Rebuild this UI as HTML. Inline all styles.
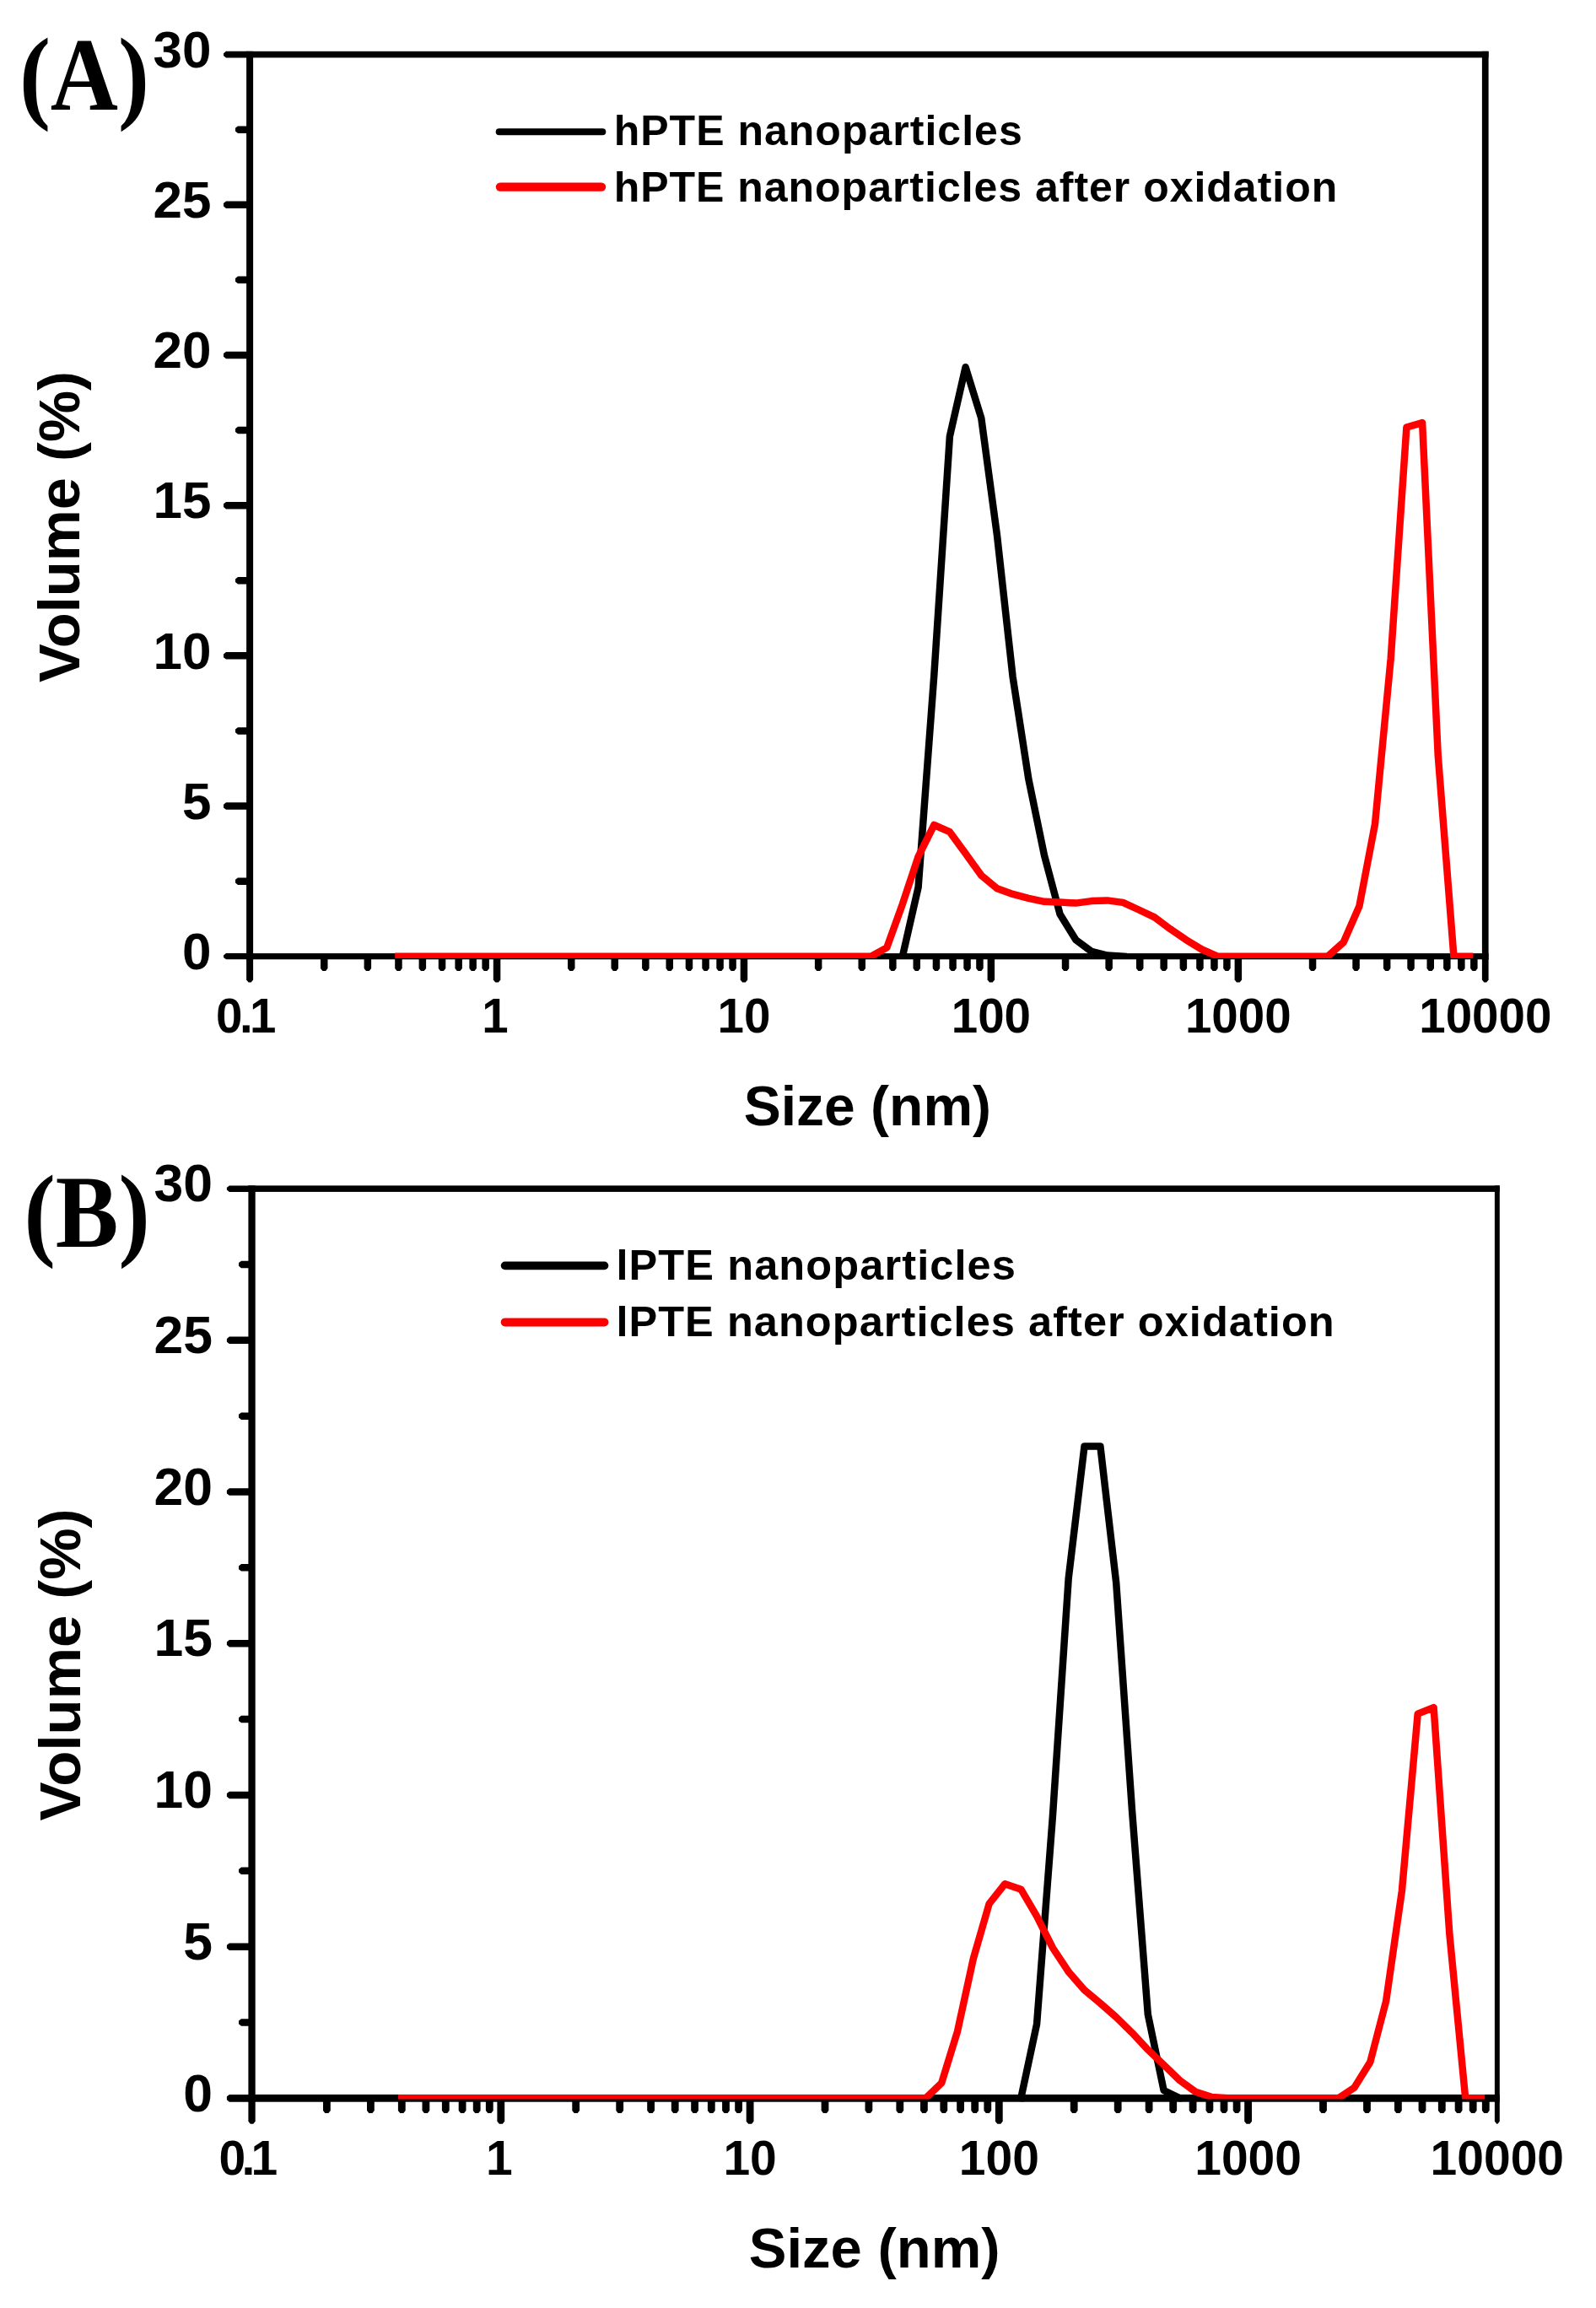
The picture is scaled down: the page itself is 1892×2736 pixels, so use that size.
<!DOCTYPE html>
<html lang="en">
<head>
<meta charset="utf-8">
<title>Particle size distributions</title>
<style>
html, body { margin: 0; padding: 0; background: #fff; }
body { width: 1892px; height: 2736px; overflow: hidden; }
svg { display: block; }
text { white-space: pre; }
</style>
</head>
<body>
<svg width="1892" height="2736" viewBox="0 0 1892 2736">
<rect x="0" y="0" width="1892" height="2736" fill="#fff"/>
<g id="chartA">
<g fill="#000">
<rect x="292.1" y="60.8" width="8.0" height="1076.5"/>
<rect x="1756.9" y="60.8" width="7.7" height="1076.5"/>
<rect x="292.1" y="60.8" width="1472.5" height="7.6"/>
<rect x="292.1" y="1130.1" width="1472.5" height="7.2"/>
<polygon points="293.1,1130.1 268.0,1130.1 265.0,1132.5 265.0,1134.9 268.0,1137.3 293.1,1137.3"/>
<polygon points="293.1,1040.4 282.0,1040.4 279.0,1042.8 279.0,1046.5 282.0,1048.9 293.1,1048.9"/>
<polygon points="293.1,951.3 268.0,951.3 265.0,953.7 265.0,957.4 268.0,959.8 293.1,959.8"/>
<polygon points="293.1,862.2 282.0,862.2 279.0,864.6 279.0,868.3 282.0,870.7 293.1,870.7"/>
<polygon points="293.1,773.1 268.0,773.1 265.0,775.5 265.0,779.2 268.0,781.6 293.1,781.6"/>
<polygon points="293.1,684.0 282.0,684.0 279.0,686.4 279.0,690.1 282.0,692.5 293.1,692.5"/>
<polygon points="293.1,594.9 268.0,594.9 265.0,597.3 265.0,601.0 268.0,603.4 293.1,603.4"/>
<polygon points="293.1,505.8 282.0,505.8 279.0,508.2 279.0,511.9 282.0,514.3 293.1,514.3"/>
<polygon points="293.1,416.7 268.0,416.7 265.0,419.1 265.0,422.8 268.0,425.2 293.1,425.2"/>
<polygon points="293.1,327.6 282.0,327.6 279.0,330.0 279.0,333.7 282.0,336.1 293.1,336.1"/>
<polygon points="293.1,238.5 268.0,238.5 265.0,240.9 265.0,244.6 268.0,247.0 293.1,247.0"/>
<polygon points="293.1,149.4 282.0,149.4 279.0,151.8 279.0,155.5 282.0,157.9 293.1,157.9"/>
<polygon points="293.1,60.8 268.0,60.8 265.0,63.2 265.0,66.0 268.0,68.4 293.1,68.4"/>
<polygon points="292.1,1136.3 292.1,1161.6 294.5,1164.6 297.7,1164.6 300.1,1161.6 300.1,1136.3"/>
<polygon points="380.0,1136.3 380.0,1148.0 382.4,1151.0 386.1,1151.0 388.5,1148.0 388.5,1136.3"/>
<polygon points="431.6,1136.3 431.6,1148.0 434.0,1151.0 437.7,1151.0 440.1,1148.0 440.1,1136.3"/>
<polygon points="468.2,1136.3 468.2,1148.0 470.6,1151.0 474.3,1151.0 476.7,1148.0 476.7,1136.3"/>
<polygon points="496.6,1136.3 496.6,1148.0 499.0,1151.0 502.7,1151.0 505.1,1148.0 505.1,1136.3"/>
<polygon points="519.8,1136.3 519.8,1148.0 522.2,1151.0 525.9,1151.0 528.3,1148.0 528.3,1136.3"/>
<polygon points="539.4,1136.3 539.4,1148.0 541.8,1151.0 545.5,1151.0 547.9,1148.0 547.9,1136.3"/>
<polygon points="556.4,1136.3 556.4,1148.0 558.8,1151.0 562.5,1151.0 564.9,1148.0 564.9,1136.3"/>
<polygon points="571.4,1136.3 571.4,1148.0 573.8,1151.0 577.5,1151.0 579.9,1148.0 579.9,1136.3"/>
<polygon points="584.8,1136.3 584.8,1161.6 587.2,1164.6 590.9,1164.6 593.3,1161.6 593.3,1136.3"/>
<polygon points="673.0,1136.3 673.0,1148.0 675.4,1151.0 679.1,1151.0 681.5,1148.0 681.5,1136.3"/>
<polygon points="724.5,1136.3 724.5,1148.0 726.9,1151.0 730.6,1151.0 733.0,1148.0 733.0,1136.3"/>
<polygon points="761.1,1136.3 761.1,1148.0 763.5,1151.0 767.2,1151.0 769.6,1148.0 769.6,1136.3"/>
<polygon points="789.5,1136.3 789.5,1148.0 791.9,1151.0 795.6,1151.0 798.0,1148.0 798.0,1136.3"/>
<polygon points="812.7,1136.3 812.7,1148.0 815.1,1151.0 818.8,1151.0 821.2,1148.0 821.2,1136.3"/>
<polygon points="832.3,1136.3 832.3,1148.0 834.7,1151.0 838.4,1151.0 840.8,1148.0 840.8,1136.3"/>
<polygon points="849.3,1136.3 849.3,1148.0 851.7,1151.0 855.4,1151.0 857.8,1148.0 857.8,1136.3"/>
<polygon points="864.3,1136.3 864.3,1148.0 866.7,1151.0 870.4,1151.0 872.8,1148.0 872.8,1136.3"/>
<polygon points="877.7,1136.3 877.7,1161.6 880.1,1164.6 883.8,1164.6 886.2,1161.6 886.2,1136.3"/>
<polygon points="965.9,1136.3 965.9,1148.0 968.3,1151.0 972.0,1151.0 974.4,1148.0 974.4,1136.3"/>
<polygon points="1017.5,1136.3 1017.5,1148.0 1019.9,1151.0 1023.6,1151.0 1026.0,1148.0 1026.0,1136.3"/>
<polygon points="1054.1,1136.3 1054.1,1148.0 1056.5,1151.0 1060.2,1151.0 1062.6,1148.0 1062.6,1136.3"/>
<polygon points="1082.5,1136.3 1082.5,1148.0 1084.9,1151.0 1088.6,1151.0 1091.0,1148.0 1091.0,1136.3"/>
<polygon points="1105.7,1136.3 1105.7,1148.0 1108.1,1151.0 1111.8,1151.0 1114.2,1148.0 1114.2,1136.3"/>
<polygon points="1125.3,1136.3 1125.3,1148.0 1127.7,1151.0 1131.4,1151.0 1133.8,1148.0 1133.8,1136.3"/>
<polygon points="1142.3,1136.3 1142.3,1148.0 1144.7,1151.0 1148.4,1151.0 1150.8,1148.0 1150.8,1136.3"/>
<polygon points="1157.2,1136.3 1157.2,1148.0 1159.6,1151.0 1163.3,1151.0 1165.7,1148.0 1165.7,1136.3"/>
<polygon points="1170.6,1136.3 1170.6,1161.6 1173.0,1164.6 1176.7,1164.6 1179.1,1161.6 1179.1,1136.3"/>
<polygon points="1258.8,1136.3 1258.8,1148.0 1261.2,1151.0 1264.9,1151.0 1267.3,1148.0 1267.3,1136.3"/>
<polygon points="1310.4,1136.3 1310.4,1148.0 1312.8,1151.0 1316.5,1151.0 1318.9,1148.0 1318.9,1136.3"/>
<polygon points="1347.0,1136.3 1347.0,1148.0 1349.4,1151.0 1353.1,1151.0 1355.5,1148.0 1355.5,1136.3"/>
<polygon points="1375.4,1136.3 1375.4,1148.0 1377.8,1151.0 1381.5,1151.0 1383.9,1148.0 1383.9,1136.3"/>
<polygon points="1398.6,1136.3 1398.6,1148.0 1401.0,1151.0 1404.7,1151.0 1407.1,1148.0 1407.1,1136.3"/>
<polygon points="1418.2,1136.3 1418.2,1148.0 1420.6,1151.0 1424.3,1151.0 1426.7,1148.0 1426.7,1136.3"/>
<polygon points="1435.2,1136.3 1435.2,1148.0 1437.6,1151.0 1441.3,1151.0 1443.7,1148.0 1443.7,1136.3"/>
<polygon points="1450.2,1136.3 1450.2,1148.0 1452.6,1151.0 1456.3,1151.0 1458.7,1148.0 1458.7,1136.3"/>
<polygon points="1463.6,1136.3 1463.6,1161.6 1466.0,1164.6 1469.7,1164.6 1472.1,1161.6 1472.1,1136.3"/>
<polygon points="1551.8,1136.3 1551.8,1148.0 1554.2,1151.0 1557.9,1151.0 1560.3,1148.0 1560.3,1136.3"/>
<polygon points="1603.3,1136.3 1603.3,1148.0 1605.7,1151.0 1609.4,1151.0 1611.8,1148.0 1611.8,1136.3"/>
<polygon points="1639.9,1136.3 1639.9,1148.0 1642.3,1151.0 1646.0,1151.0 1648.4,1148.0 1648.4,1136.3"/>
<polygon points="1668.3,1136.3 1668.3,1148.0 1670.7,1151.0 1674.4,1151.0 1676.8,1148.0 1676.8,1136.3"/>
<polygon points="1691.5,1136.3 1691.5,1148.0 1693.9,1151.0 1697.6,1151.0 1700.0,1148.0 1700.0,1136.3"/>
<polygon points="1711.1,1136.3 1711.1,1148.0 1713.5,1151.0 1717.2,1151.0 1719.6,1148.0 1719.6,1136.3"/>
<polygon points="1728.1,1136.3 1728.1,1148.0 1730.5,1151.0 1734.2,1151.0 1736.6,1148.0 1736.6,1136.3"/>
<polygon points="1743.1,1136.3 1743.1,1148.0 1745.5,1151.0 1749.2,1151.0 1751.6,1148.0 1751.6,1136.3"/>
<polygon points="1756.9,1136.3 1756.9,1161.6 1759.3,1164.6 1762.2,1164.6 1764.6,1161.6 1764.6,1136.3"/>
</g>
<clipPath id="clipkA"><rect x="0" y="40.8" width="1892" height="1096.2"/></clipPath>
<polyline points="1069.9,1133.7 1088.6,1051.7 1107.3,800.5 1125.9,517.2 1144.6,435.2 1163.3,495.8 1182.0,634.8 1200.6,802.3 1219.3,923.4 1238.0,1014.0 1256.6,1083.8 1275.3,1114.1 1294.0,1128.0 1312.6,1132.6 1331.3,1133.7" fill="none" stroke="#000" stroke-width="8.5" stroke-linejoin="round" stroke-linecap="square" clip-path="url(#clipkA)"/>
<clipPath id="clipA"><rect x="0" y="40.8" width="1892" height="1095.2"/></clipPath>
<polyline points="472.5,1133.7 491.1,1133.7 509.8,1133.7 528.5,1133.7 547.1,1133.7 565.8,1133.7 584.5,1133.7 603.2,1133.7 621.8,1133.7 640.5,1133.7 659.2,1133.7 677.8,1133.7 696.5,1133.7 715.2,1133.7 733.9,1133.7 752.5,1133.7 771.2,1133.7 789.9,1133.7 808.5,1133.7 827.2,1133.7 845.9,1133.7 864.5,1133.7 883.2,1133.7 901.9,1133.7 920.6,1133.7 939.2,1133.7 957.9,1133.7 976.6,1133.7 995.2,1133.7 1013.9,1133.7 1032.6,1133.7 1051.3,1123.4 1069.9,1071.7 1088.6,1015.4 1107.3,978.0 1125.9,986.2 1144.6,1011.8 1163.3,1037.8 1182.0,1053.2 1200.6,1059.9 1219.3,1064.9 1238.0,1068.8 1256.6,1069.6 1275.3,1070.6 1294.0,1068.1 1312.6,1067.4 1331.3,1069.9 1350.0,1078.5 1368.7,1087.4 1387.3,1101.3 1406.0,1114.1 1424.7,1125.5 1443.3,1133.7 1462.0,1133.7 1480.7,1133.7 1499.4,1133.7 1518.0,1133.7 1536.7,1133.7 1555.4,1133.7 1574.0,1133.7 1592.7,1117.0 1611.4,1074.2 1630.0,976.9 1648.7,780.9 1667.4,506.5 1686.1,501.1 1704.7,894.9 1723.4,1133.7 1742.1,1133.7" fill="none" stroke="#f00" stroke-width="8.5" stroke-linejoin="round" stroke-linecap="square" clip-path="url(#clipA)"/>
<g font-family="'Liberation Sans', Arial, sans-serif" font-weight="bold" fill="#000">
<text x="250.5" y="1148.9" font-size="62" text-anchor="end">0</text>
<text x="250.5" y="970.7" font-size="62" text-anchor="end">5</text>
<text x="250.5" y="792.5" font-size="62" text-anchor="end">10</text>
<text x="250.5" y="614.3" font-size="62" text-anchor="end">15</text>
<text x="250.5" y="436.2" font-size="62" text-anchor="end">20</text>
<text x="250.5" y="258.0" font-size="62" text-anchor="end">25</text>
<text x="250.5" y="79.8" font-size="62" text-anchor="end">30</text>
<text x="256.1" y="1223.5" font-size="56.5" textLength="71.4" lengthAdjust="spacing">0.1</text>
<text x="587.0" y="1223.5" font-size="56.5" text-anchor="middle">1</text>
<text x="882.0" y="1223.5" font-size="56.5" text-anchor="middle">10</text>
<text x="1174.9" y="1223.5" font-size="56.5" text-anchor="middle">100</text>
<text x="1467.8" y="1223.5" font-size="56.5" text-anchor="middle">1000</text>
<text x="1760.8" y="1223.5" font-size="56.5" text-anchor="middle">10000</text>
<text x="1028.4" y="1334.0" font-size="66" text-anchor="middle">Size (nm)</text>
<text transform="translate(93.6,624.5) rotate(-90)" font-size="68.7" text-anchor="middle">Volume (%)</text>
<line x1="591.7" y1="156.3" x2="714.3" y2="156.3" stroke="#000" stroke-width="8.0" stroke-linecap="round"/>
<text x="727.7" y="171.9" font-size="50" textLength="484.0" lengthAdjust="spacing">hPTE nanoparticles</text>
<line x1="592.9" y1="221.6" x2="713.1" y2="221.6" stroke="#f00" stroke-width="10.3" stroke-linecap="round"/>
<text x="727.7" y="238.6" font-size="50" textLength="857.5" lengthAdjust="spacing">hPTE nanoparticles after oxidation</text>
</g>
<text transform="translate(22.9,129.5) scale(0.91,1)" font-family="'Liberation Serif', 'Times New Roman', serif" font-weight="bold" font-size="122" fill="#000">(A)</text>
</g>
<g id="chartB">
<g fill="#000">
<rect x="294.4" y="1405.4" width="8.3" height="1086.3"/>
<rect x="1771.9" y="1405.4" width="5.9" height="1086.3"/>
<rect x="294.4" y="1405.4" width="1483.4" height="7.5"/>
<rect x="294.4" y="2482.9" width="1483.4" height="8.8"/>
<polygon points="295.4,2482.9 271.9,2482.9 268.9,2485.3 268.9,2489.3 271.9,2491.7 295.4,2491.7"/>
<polygon points="295.4,2393.2 286.0,2393.2 283.0,2395.6 283.0,2399.3 286.0,2401.7 295.4,2401.7"/>
<polygon points="295.4,2303.4 271.9,2303.4 268.9,2305.8 268.9,2309.5 271.9,2311.9 295.4,2311.9"/>
<polygon points="295.4,2213.5 286.0,2213.5 283.0,2215.9 283.0,2219.6 286.0,2222.0 295.4,2222.0"/>
<polygon points="295.4,2123.7 271.9,2123.7 268.9,2126.1 268.9,2129.8 271.9,2132.2 295.4,2132.2"/>
<polygon points="295.4,2033.8 286.0,2033.8 283.0,2036.2 283.0,2039.9 286.0,2042.3 295.4,2042.3"/>
<polygon points="295.4,1944.0 271.9,1944.0 268.9,1946.4 268.9,1950.1 271.9,1952.5 295.4,1952.5"/>
<polygon points="295.4,1854.1 286.0,1854.1 283.0,1856.5 283.0,1860.2 286.0,1862.6 295.4,1862.6"/>
<polygon points="295.4,1764.3 271.9,1764.3 268.9,1766.7 268.9,1770.4 271.9,1772.8 295.4,1772.8"/>
<polygon points="295.4,1674.4 286.0,1674.4 283.0,1676.8 283.0,1680.5 286.0,1682.9 295.4,1682.9"/>
<polygon points="295.4,1584.6 271.9,1584.6 268.9,1587.0 268.9,1590.7 271.9,1593.1 295.4,1593.1"/>
<polygon points="295.4,1494.7 286.0,1494.7 283.0,1497.1 283.0,1500.8 286.0,1503.2 295.4,1503.2"/>
<polygon points="295.4,1405.4 271.9,1405.4 268.9,1407.8 268.9,1410.5 271.9,1412.9 295.4,1412.9"/>
<polygon points="294.4,2490.7 294.4,2514.7 296.8,2517.7 300.3,2517.7 302.7,2514.7 302.7,2490.7"/>
<polygon points="383.0,2490.7 383.0,2502.0 385.4,2505.0 389.4,2505.0 391.8,2502.0 391.8,2490.7"/>
<polygon points="435.0,2490.7 435.0,2502.0 437.4,2505.0 441.4,2505.0 443.8,2502.0 443.8,2490.7"/>
<polygon points="471.9,2490.7 471.9,2502.0 474.3,2505.0 478.3,2505.0 480.7,2502.0 480.7,2490.7"/>
<polygon points="500.5,2490.7 500.5,2502.0 502.9,2505.0 506.9,2505.0 509.3,2502.0 509.3,2490.7"/>
<polygon points="523.9,2490.7 523.9,2502.0 526.3,2505.0 530.3,2505.0 532.7,2502.0 532.7,2490.7"/>
<polygon points="543.7,2490.7 543.7,2502.0 546.1,2505.0 550.1,2505.0 552.5,2502.0 552.5,2490.7"/>
<polygon points="560.8,2490.7 560.8,2502.0 563.2,2505.0 567.2,2505.0 569.6,2502.0 569.6,2490.7"/>
<polygon points="575.9,2490.7 575.9,2502.0 578.3,2505.0 582.3,2505.0 584.7,2502.0 584.7,2490.7"/>
<polygon points="589.4,2490.7 589.4,2514.7 591.8,2517.7 595.8,2517.7 598.2,2514.7 598.2,2490.7"/>
<polygon points="678.3,2490.7 678.3,2502.0 680.7,2505.0 684.7,2505.0 687.1,2502.0 687.1,2490.7"/>
<polygon points="730.3,2490.7 730.3,2502.0 732.7,2505.0 736.7,2505.0 739.1,2502.0 739.1,2490.7"/>
<polygon points="767.2,2490.7 767.2,2502.0 769.6,2505.0 773.6,2505.0 776.0,2502.0 776.0,2490.7"/>
<polygon points="795.8,2490.7 795.8,2502.0 798.2,2505.0 802.2,2505.0 804.6,2502.0 804.6,2490.7"/>
<polygon points="819.2,2490.7 819.2,2502.0 821.6,2505.0 825.6,2505.0 828.0,2502.0 828.0,2490.7"/>
<polygon points="838.9,2490.7 838.9,2502.0 841.3,2505.0 845.3,2505.0 847.7,2502.0 847.7,2490.7"/>
<polygon points="856.1,2490.7 856.1,2502.0 858.5,2505.0 862.5,2505.0 864.9,2502.0 864.9,2490.7"/>
<polygon points="871.2,2490.7 871.2,2502.0 873.6,2505.0 877.6,2505.0 880.0,2502.0 880.0,2490.7"/>
<polygon points="884.7,2490.7 884.7,2514.7 887.1,2517.7 891.1,2517.7 893.5,2514.7 893.5,2490.7"/>
<polygon points="973.6,2490.7 973.6,2502.0 976.0,2505.0 980.0,2505.0 982.4,2502.0 982.4,2490.7"/>
<polygon points="1025.5,2490.7 1025.5,2502.0 1027.9,2505.0 1031.9,2505.0 1034.3,2502.0 1034.3,2490.7"/>
<polygon points="1062.4,2490.7 1062.4,2502.0 1064.8,2505.0 1068.8,2505.0 1071.2,2502.0 1071.2,2490.7"/>
<polygon points="1091.0,2490.7 1091.0,2502.0 1093.4,2505.0 1097.4,2505.0 1099.8,2502.0 1099.8,2490.7"/>
<polygon points="1114.4,2490.7 1114.4,2502.0 1116.8,2505.0 1120.8,2505.0 1123.2,2502.0 1123.2,2490.7"/>
<polygon points="1134.2,2490.7 1134.2,2502.0 1136.6,2505.0 1140.6,2505.0 1143.0,2502.0 1143.0,2490.7"/>
<polygon points="1151.3,2490.7 1151.3,2502.0 1153.7,2505.0 1157.7,2505.0 1160.1,2502.0 1160.1,2490.7"/>
<polygon points="1166.4,2490.7 1166.4,2502.0 1168.8,2505.0 1172.8,2505.0 1175.2,2502.0 1175.2,2490.7"/>
<polygon points="1179.9,2490.7 1179.9,2514.7 1182.3,2517.7 1186.3,2517.7 1188.7,2514.7 1188.7,2490.7"/>
<polygon points="1268.8,2490.7 1268.8,2502.0 1271.2,2505.0 1275.2,2505.0 1277.6,2502.0 1277.6,2490.7"/>
<polygon points="1320.8,2490.7 1320.8,2502.0 1323.2,2505.0 1327.2,2505.0 1329.6,2502.0 1329.6,2490.7"/>
<polygon points="1357.7,2490.7 1357.7,2502.0 1360.1,2505.0 1364.1,2505.0 1366.5,2502.0 1366.5,2490.7"/>
<polygon points="1386.3,2490.7 1386.3,2502.0 1388.7,2505.0 1392.7,2505.0 1395.1,2502.0 1395.1,2490.7"/>
<polygon points="1409.7,2490.7 1409.7,2502.0 1412.1,2505.0 1416.1,2505.0 1418.5,2502.0 1418.5,2490.7"/>
<polygon points="1429.5,2490.7 1429.5,2502.0 1431.9,2505.0 1435.9,2505.0 1438.3,2502.0 1438.3,2490.7"/>
<polygon points="1446.6,2490.7 1446.6,2502.0 1449.0,2505.0 1453.0,2505.0 1455.4,2502.0 1455.4,2490.7"/>
<polygon points="1461.7,2490.7 1461.7,2502.0 1464.1,2505.0 1468.1,2505.0 1470.5,2502.0 1470.5,2490.7"/>
<polygon points="1475.2,2490.7 1475.2,2514.7 1477.6,2517.7 1481.6,2517.7 1484.0,2514.7 1484.0,2490.7"/>
<polygon points="1564.1,2490.7 1564.1,2502.0 1566.5,2505.0 1570.5,2505.0 1572.9,2502.0 1572.9,2490.7"/>
<polygon points="1616.1,2490.7 1616.1,2502.0 1618.5,2505.0 1622.5,2505.0 1624.9,2502.0 1624.9,2490.7"/>
<polygon points="1653.0,2490.7 1653.0,2502.0 1655.4,2505.0 1659.4,2505.0 1661.8,2502.0 1661.8,2490.7"/>
<polygon points="1681.6,2490.7 1681.6,2502.0 1684.0,2505.0 1688.0,2505.0 1690.4,2502.0 1690.4,2490.7"/>
<polygon points="1704.9,2490.7 1704.9,2502.0 1707.3,2505.0 1711.3,2505.0 1713.7,2502.0 1713.7,2490.7"/>
<polygon points="1724.7,2490.7 1724.7,2502.0 1727.1,2505.0 1731.1,2505.0 1733.5,2502.0 1733.5,2490.7"/>
<polygon points="1741.8,2490.7 1741.8,2502.0 1744.2,2505.0 1748.2,2505.0 1750.6,2502.0 1750.6,2490.7"/>
<polygon points="1756.9,2490.7 1756.9,2502.0 1759.3,2505.0 1763.3,2505.0 1765.7,2502.0 1765.7,2490.7"/>
<polygon points="1771.9,2490.7 1771.9,2514.7 1774.3,2517.7 1775.4,2517.7 1777.8,2514.7 1777.8,2490.7"/>
</g>
<clipPath id="clipkB"><rect x="0" y="1385.4" width="1892" height="1106.0"/></clipPath>
<polyline points="1210.3,2487.3 1229.1,2399.3 1247.9,2153.1 1266.7,1871.0 1285.5,1714.6 1304.4,1714.6 1323.2,1876.3 1342.0,2145.9 1360.8,2387.8 1379.6,2478.0 1398.5,2487.3" fill="none" stroke="#000" stroke-width="8.5" stroke-linejoin="round" stroke-linecap="square" clip-path="url(#clipkB)"/>
<clipPath id="clipB"><rect x="0" y="1385.4" width="1892" height="1103.2"/></clipPath>
<polyline points="476.3,2487.3 495.1,2487.3 514.0,2487.3 532.8,2487.3 551.6,2487.3 570.4,2487.3 589.2,2487.3 608.0,2487.3 626.9,2487.3 645.7,2487.3 664.5,2487.3 683.3,2487.3 702.1,2487.3 721.0,2487.3 739.8,2487.3 758.6,2487.3 777.4,2487.3 796.2,2487.3 815.1,2487.3 833.9,2487.3 852.7,2487.3 871.5,2487.3 890.3,2487.3 909.2,2487.3 928.0,2487.3 946.8,2487.3 965.6,2487.3 984.4,2487.3 1003.3,2487.3 1022.1,2487.3 1040.9,2487.3 1059.7,2487.3 1078.5,2487.3 1097.4,2487.3 1116.2,2469.3 1135.0,2408.2 1153.8,2322.0 1172.6,2256.9 1191.4,2233.2 1210.3,2239.7 1229.1,2271.7 1247.9,2309.0 1266.7,2337.4 1285.5,2359.0 1304.4,2374.8 1323.2,2391.3 1342.0,2409.7 1360.8,2429.8 1379.6,2447.8 1398.5,2466.1 1417.3,2479.8 1436.1,2485.9 1454.9,2487.3 1473.7,2487.3 1492.6,2487.3 1511.4,2487.3 1530.2,2487.3 1549.0,2487.3 1567.8,2487.3 1586.7,2487.3 1605.5,2474.7 1624.3,2444.5 1643.1,2372.3 1661.9,2241.5 1680.7,2031.6 1699.6,2024.1 1718.4,2293.2 1737.2,2487.3 1756.0,2487.3" fill="none" stroke="#f00" stroke-width="8.5" stroke-linejoin="round" stroke-linecap="square" clip-path="url(#clipB)"/>
<g font-family="'Liberation Sans', Arial, sans-serif" font-weight="bold" fill="#000">
<text x="252.0" y="2502.5" font-size="62.5" text-anchor="end">0</text>
<text x="252.0" y="2322.8" font-size="62.5" text-anchor="end">5</text>
<text x="252.0" y="2143.1" font-size="62.5" text-anchor="end">10</text>
<text x="252.0" y="1963.4" font-size="62.5" text-anchor="end">15</text>
<text x="252.0" y="1783.7" font-size="62.5" text-anchor="end">20</text>
<text x="252.0" y="1604.0" font-size="62.5" text-anchor="end">25</text>
<text x="252.0" y="1424.4" font-size="62.5" text-anchor="end">30</text>
<text x="259.5" y="2577.5" font-size="57" textLength="69.8" lengthAdjust="spacing">0.1</text>
<text x="591.8" y="2577.5" font-size="57" text-anchor="middle">1</text>
<text x="889.1" y="2577.5" font-size="57" text-anchor="middle">10</text>
<text x="1184.3" y="2577.5" font-size="57" text-anchor="middle">100</text>
<text x="1479.6" y="2577.5" font-size="57" text-anchor="middle">1000</text>
<text x="1774.8" y="2577.5" font-size="57" text-anchor="middle">10000</text>
<text x="1036.7" y="2688.0" font-size="67" text-anchor="middle">Size (nm)</text>
<text transform="translate(94.8,1973.5) rotate(-90)" font-size="68.9" text-anchor="middle">Volume (%)</text>
<line x1="598.6" y1="1500.4" x2="716.5" y2="1500.4" stroke="#000" stroke-width="9.7" stroke-linecap="round"/>
<text x="730.4" y="1516.7" font-size="50.5" textLength="473.5" lengthAdjust="spacing">lPTE nanoparticles</text>
<line x1="598.7" y1="1567.4" x2="716.4" y2="1567.4" stroke="#f00" stroke-width="10.0" stroke-linecap="round"/>
<text x="730.4" y="1583.6" font-size="50.5" textLength="851.3" lengthAdjust="spacing">lPTE nanoparticles after oxidation</text>
</g>
<text transform="translate(28.6,1478.3) scale(0.91,1)" font-family="'Liberation Serif', 'Times New Roman', serif" font-weight="bold" font-size="123" fill="#000">(B)</text>
</g>
</svg>
</body>
</html>
